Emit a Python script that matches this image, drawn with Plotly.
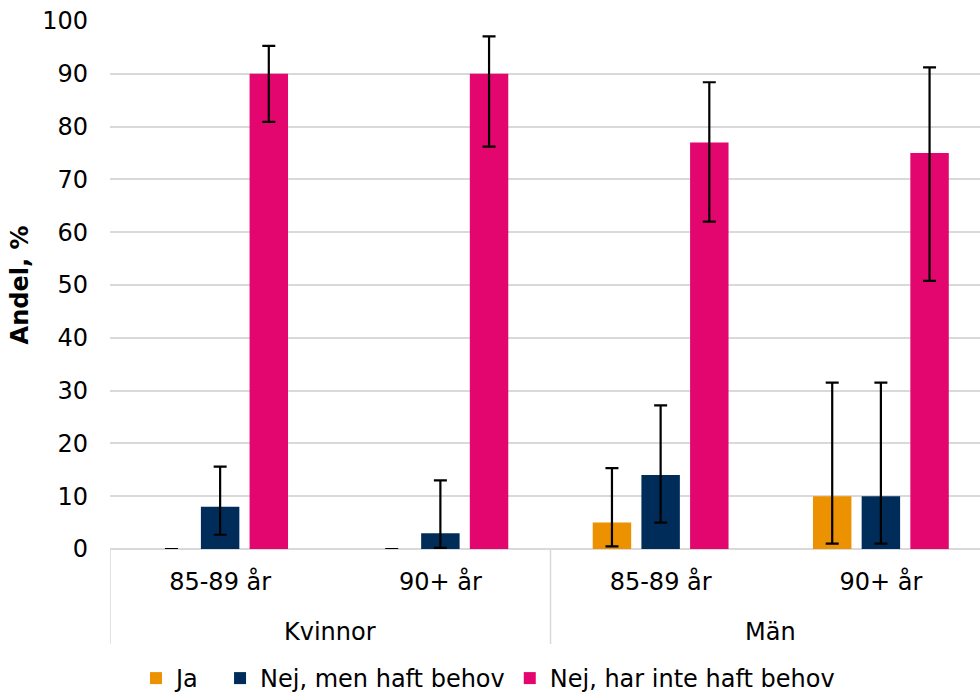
import plotly.graph_objects as go

# Grouping: sex (outer) and age band (inner)
groups = ["Kvinnor", "Män"]
ages = ["85-89 år", "90+ år", "85-89 år", "90+ år"]
ages_per_group = 2

series_names = ["Ja", "Nej, men haft behov", "Nej, har inte haft behov"]
series_colors = ["#EC9200", "#002C5A", "#E2066E"]

# Share, % per category
ja = [0, 0, 5, 10]
nej_behov = [8, 3, 14, 10]
nej_inte = [90, 90, 77, 75]

# Confidence interval bounds (lower, upper)
ja_low = [0, 0, 0.5, 1.0]
ja_high = [0, 0, 15.3, 31.5]
nej_behov_low = [2.7, 0.2, 5.0, 1.0]
nej_behov_high = [15.6, 13.0, 27.2, 31.5]
nej_inte_low = [80.9, 76.2, 62.0, 50.8]
nej_inte_high = [95.3, 97.1, 88.4, 91.2]

y_ticks = list(range(0, 101, 10))

values = [ja, nej_behov, nej_inte]
lows = [ja_low, nej_behov_low, nej_inte_low]
highs = [ja_high, nej_behov_high, nej_inte_high]

FONT = "DejaVu Sans"
AXIS_SIZE = 24
LEGEND_SIZE = 24
NBSP = "\u00a0"

positions = list(range(len(ages)))

fig = go.Figure()
for i, (name, color, vals, lo, hi) in enumerate(zip(series_names, series_colors, values, lows, highs)):
    # short first label gets a little extra room in the legend row
    label = name + NBSP * 2 if i == 0 else name
    fig.add_trace(go.Bar(
        name=label,
        x=positions,
        y=vals,
        marker=dict(color=color, line=dict(width=0)),
        error_y=dict(
            type="data",
            symmetric=False,
            array=[h - v for h, v in zip(hi, vals)],
            arrayminus=[v - l for v, l in zip(vals, lo)],
            color="#000000",
            thickness=2.2,
            width=6.5,
        ),
    ))

# Outer group labels and the divider lines between groups
divider_y = -0.18
for g, gname in enumerate(groups):
    center = g * ages_per_group + (ages_per_group - 1) / 2
    fig.add_annotation(
        x=center, xref="x", y=0, yref="paper",
        yanchor="middle", yshift=-83,
        text=gname, showarrow=False,
        font=dict(family=FONT, size=AXIS_SIZE, color="#000000"),
    )
for g in range(len(groups) + 1):
    edge = g * ages_per_group - 0.5
    fig.add_shape(
        type="line", xref="x", yref="paper",
        x0=edge, x1=edge, y0=0, y1=divider_y,
        line=dict(color="#D9D9D9", width=1.5),
    )

fig.update_layout(
    width=980,
    height=695,
    margin=dict(l=110, r=0, t=21, b=146),
    paper_bgcolor="white",
    plot_bgcolor="white",
    barmode="group",
    bargap=0.337,
    bargroupgap=0.21,
    font=dict(family=FONT, size=AXIS_SIZE, color="#000000"),
    showlegend=True,
    legend=dict(
        orientation="h",
        xref="container",
        yref="container",
        x=136 / 980,
        xanchor="left",
        y=(695 - 656) / 695,
        yanchor="top",
        font=dict(family=FONT, size=LEGEND_SIZE, color="#000000"),
        itemwidth=30,
        bgcolor="rgba(0,0,0,0)",
    ),
)

fig.update_yaxes(
    range=[0, 100],
    tickvals=y_ticks,
    ticktext=[str(t) for t in y_ticks],
    showgrid=True,
    gridcolor="#D9D9D9",
    gridwidth=1.5,
    zeroline=True,
    zerolinecolor="#D9D9D9",
    zerolinewidth=1.5,
    showline=False,
    ticks="",
    ticklabelstandoff=21,
    tickfont=dict(family=FONT, size=AXIS_SIZE, color="#000000"),
    title=dict(text="<b>Andel, %</b>", standoff=6,
               font=dict(family=FONT, size=AXIS_SIZE, color="#000000")),
)

fig.update_xaxes(
    range=[-0.5, len(ages) - 0.55],
    tickvals=positions,
    ticktext=ages,
    showgrid=False,
    showline=False,
    zeroline=False,
    ticks="",
    ticklabelstandoff=16,
    tickfont=dict(family=FONT, size=AXIS_SIZE, color="#000000"),
)

fig.write_html("out.html")
